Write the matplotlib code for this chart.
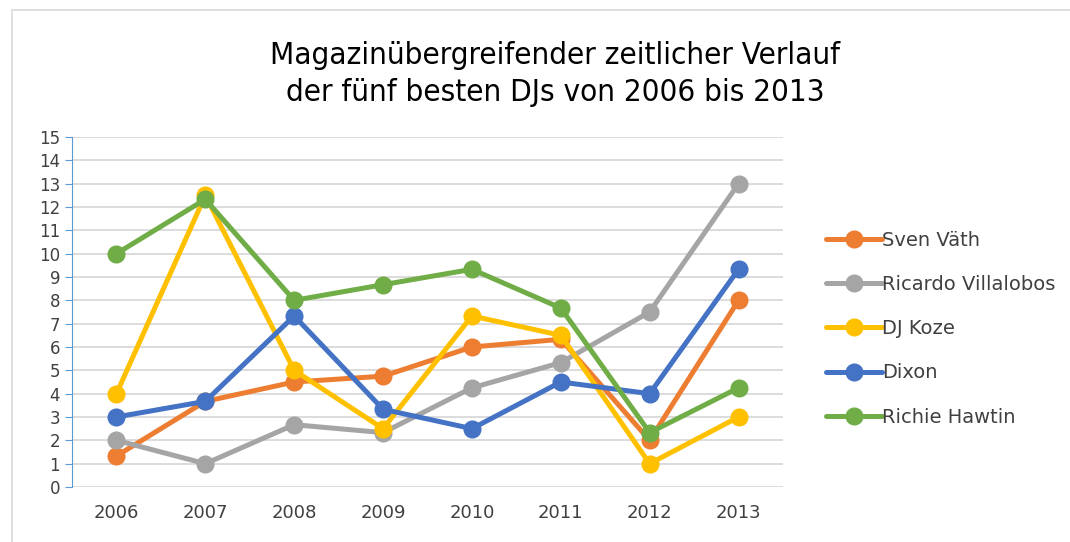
import matplotlib
matplotlib.use("Agg")
import matplotlib.pyplot as plt
from matplotlib.patches import Rectangle

years = [2006, 2007, 2008, 2009, 2010, 2011, 2012, 2013]
sven_vaeth = [1.33, 3.67, 4.5, 4.75, 6.0, 6.33, 2.0, 8.0]
ricardo_villalobos = [2.0, 1.0, 2.67, 2.33, 4.25, 5.33, 7.5, 13.0]
dj_koze = [4.0, 12.5, 5.0, 2.5, 7.33, 6.5, 1.0, 3.0]
dixon = [3.0, 3.67, 7.33, 3.33, 2.5, 4.5, 4.0, 9.33]
richie_hawtin = [10.0, 12.33, 8.0, 8.67, 9.33, 7.67, 2.33, 4.25]

names = ["Sven Väth", "Ricardo Villalobos", "DJ Koze", "Dixon", "Richie Hawtin"]
colors = ["#ED7D31", "#A5A5A5", "#FFC000", "#4472C4", "#70AD47"]
series = [sven_vaeth, ricardo_villalobos, dj_koze, dixon, richie_hawtin]

fig = plt.figure(figsize=(10.7, 5.42), dpi=100)
fig.patches.append(Rectangle((12 / 1070, -0.05), 1.1, 1 - 10 / 542 + 0.05,
                             transform=fig.transFigure, fill=False,
                             edgecolor="#D9D9D9", linewidth=1.2))

ax = fig.add_axes([72 / 1070, 1 - 487 / 542, (783 - 72) / 1070, (487 - 137) / 542])

x = list(range(len(years)))
for vals, name, c in zip(series, names, colors):
    ax.plot(x, vals, color=c, linewidth=3.6, marker="o", markersize=12,
            solid_capstyle="round", label=name)

ax.set_xlim(-0.5, len(years) - 0.5)
ax.set_ylim(0, 15)
ax.set_yticks(range(0, 16))
ax.set_xticks(x)
ax.set_xticklabels([str(y) for y in years])
ax.grid(axis="y", color="#D9D9D9", linewidth=1.3)
ax.set_axisbelow(True)
for s in ["top", "right", "bottom"]:
    ax.spines[s].set_visible(False)
ax.spines["left"].set_color("#5B9BD5")
ax.tick_params(axis="y", colors="#5B9BD5", labelcolor="#404040", labelsize=12,
               length=5, direction="out")
ax.tick_params(axis="x", length=0, labelcolor="#404040", labelsize=13, pad=12)

fig.text(555 / 1070, 1 - 74 / 542, "Magazinübergreifender zeitlicher Verlauf\nder fünf besten DJs von 2006 bis 2013",
         ha="center", va="center", fontsize=22.5, fontstretch="condensed",
         linespacing=1.32, color="#000000")

fig.legend(loc="upper left", bbox_to_anchor=(808 / 1070, 1 - 213 / 542),
           frameon=False, fontsize=14, handlelength=2.9, handletextpad=0.0,
           labelspacing=1.3, labelcolor="#404040")

fig.savefig("out.png", dpi=100)
